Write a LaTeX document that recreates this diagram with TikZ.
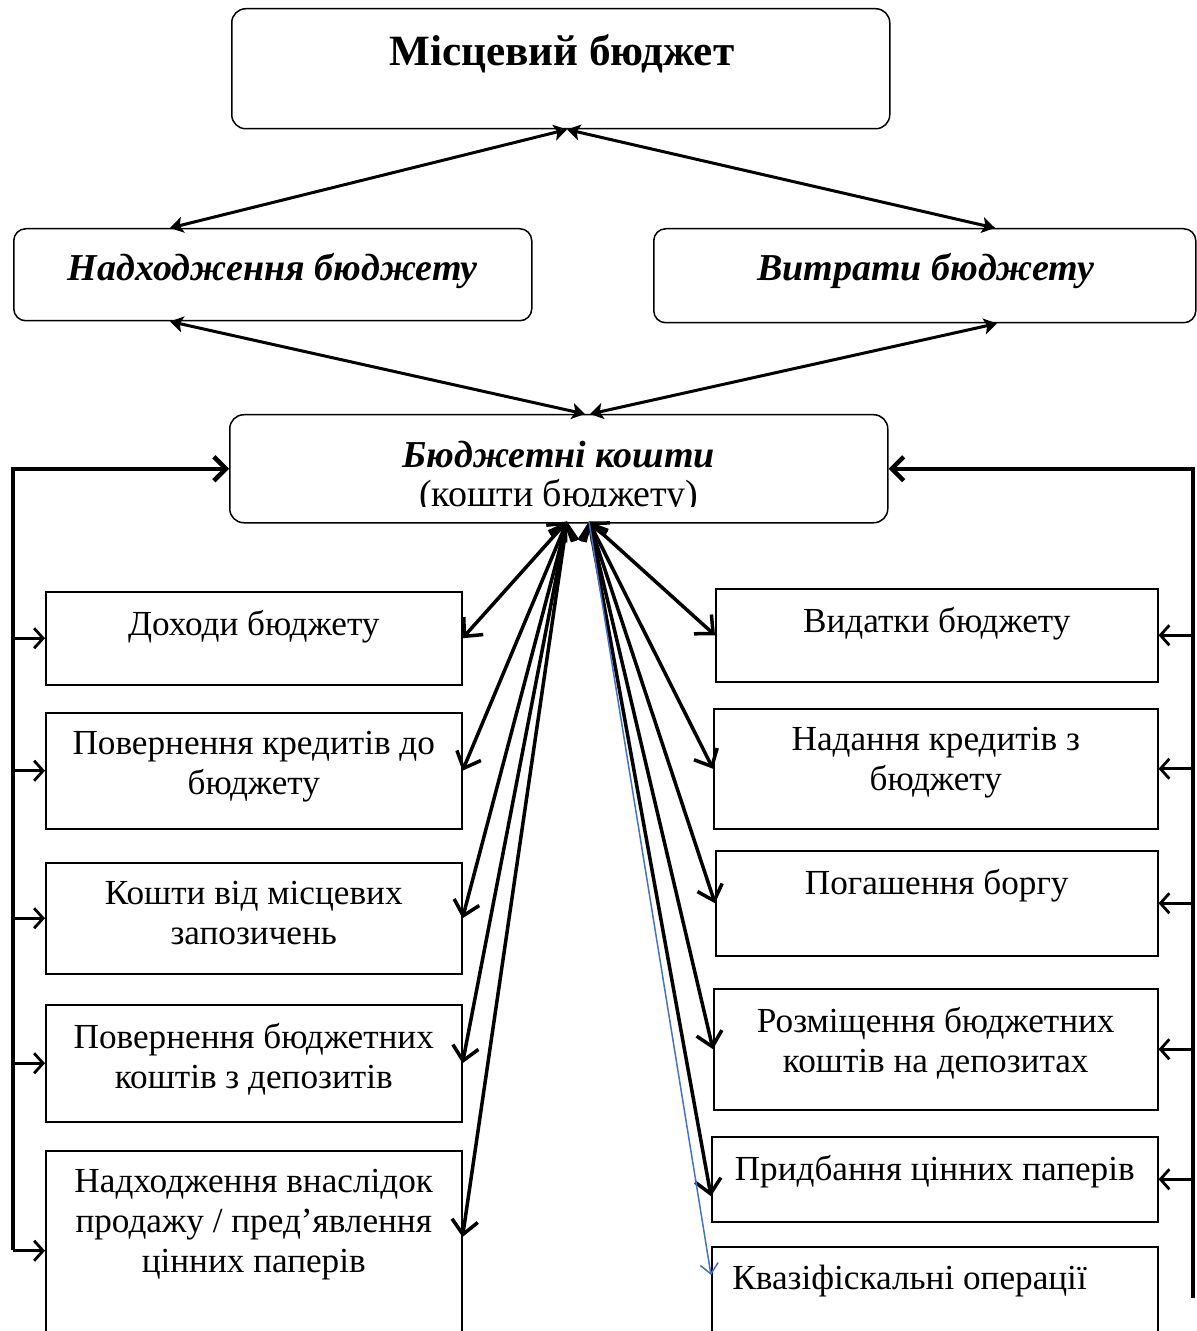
\documentclass[tikz,border=0pt]{standalone}
\usepackage{fontspec}
\setmainfont{Liberation Serif}
\usetikzlibrary{positioning,calc,arrows.meta}
\definecolor{arrowblue}{HTML}{4472C4}
\tikzset{
  rbox/.style={draw,line width=0.75pt,rounded corners=7pt,inner sep=0pt},
  sqbox/.style={draw,line width=0.75pt,inner sep=0pt},
  boxtext/.style={font=\fontsize{17.6}{20}\selectfont,align=center,inner sep=0pt},
  headtext/.style={font=\fontsize{19}{22}\selectfont\bfseries\itshape,inner sep=0pt},
  twoway/.style={line width=1.5pt,{Stealth[length=6.5pt,width=8pt,inset=1.5pt]}-{Stealth[length=6.5pt,width=8pt,inset=1.5pt]}},
  fan/.style={line width=1.75pt,{Straight Barb[length=7pt,width=13pt]}-{Straight Barb[length=7pt,width=13pt]}},
  bus/.style={line width=2.25pt,-{Straight Barb[length=6pt,width=12pt]}},
  branch/.style={line width=1.4pt,-{Straight Barb[length=4.5pt,width=10pt]}},
  blueline/.style={arrowblue,line width=0.75pt,-{Straight Barb[length=5pt,width=9pt]}}
}
% #1 name, #2 x, #3 y, #4 width, #5 height (px), #6 text
\newcommand{\flowbox}[6]{%
  \node[sqbox,minimum width={#4*0.5pt},minimum height={#5*0.5pt},anchor=north west] (#1) at (#2,#3) {};
  \node[boxtext,anchor=north] (#1t) at ($(#1.north)+(0,19)$) {#6};
}

\begin{document}
\begin{tikzpicture}[x=0.5pt,y=-0.5pt]
  \useasboundingbox (0,0) rectangle (1196,1331);
  % top level
  \node[rbox,minimum width=329pt,minimum height=60pt,anchor=north west] (budget) at (231,8) {};
  \node[font=\fontsize{21.6}{24}\selectfont\bfseries,inner sep=0pt,anchor=north] (budgett) at ($(budget.north)+(1,26)$) {Місцевий бюджет};
  \node[rbox,rounded corners=6pt,minimum width=259pt,minimum height=46pt,anchor=north west] (income) at (13,228) {};
  \node[headtext,anchor=north] (incomet) at ($(income.north)+(0,25)$) {Надходження бюджету};
  \node[rbox,rounded corners=6pt,minimum width=271pt,minimum height=47pt,anchor=north west] (spend) at (653,228) {};
  \node[headtext,anchor=north] (spendt) at ($(spend.north)+(1,25)$) {Витрати бюджету};
  \node[rbox,minimum width=329pt,minimum height=54pt,anchor=north west] (funds) at (229,414) {};
  \node[headtext,anchor=north] (fundst) at ($(funds.north)+(0,27)$) {Бюджетні кошти};
  \begin{scope}
    \clip (229,414) rectangle (887,506);
    \node[boxtext,font=\fontsize{19}{22}\selectfont,anchor=north] (fundss) at ($(funds.north)+(0,65)$) {(кошти бюджету)};
  \end{scope}
  \draw[twoway] ($(budget.south west)+(336,0)$) -- ($(income.north west)+(157,0)$);
  \draw[twoway] ($(budget.south west)+(336,0)$) -- ($(spend.north west)+(342,0)$);
  \draw[twoway] ($(income.south west)+(157,0)$) -- ($(funds.north west)+(356,0)$);
  \draw[twoway] ($(spend.south west)+(344,0)$) -- ($(funds.north west)+(361,0)$);

  % receipts
  \flowbox{l1}{45}{591}{416}{93}{Доходи бюджету}
  \flowbox{l2}{45}{712}{416}{116}{Повернення кредитів до\\бюджету}
  \flowbox{l3}{45}{862}{416}{111}{Кошти від місцевих\\запозичень}
  \flowbox{l4}{45}{1004}{416}{117}{Повернення бюджетних\\коштів з депозитів}
  \flowbox{l5}{45}{1150}{416}{200}{Надходження внаслідок\\продажу / пред’явлення\\цінних паперів}
  % payments
  \flowbox{r1}{715}{588}{442}{93}{Видатки бюджету}
  \flowbox{r2}{713}{708}{444}{120}{Надання кредитів з\\бюджету}
  \flowbox{r3}{715}{850}{442}{105}{Погашення боргу}
  \flowbox{r4}{713}{988}{444}{121}{Розміщення бюджетних\\коштів на депозитах}
  \flowbox{r5}{711}{1136}{446}{85}{Придбання цінних паперів}
  \node[sqbox,minimum width=223pt,minimum height=55pt,anchor=north west] (r6) at (711,1246) {};
  \node[boxtext,anchor=north west] (r6t) at ($(r6.north west)+(21,19)$) {Квазіфіскальні операції};

  % fan from the funds box
  \coordinate (fanL) at ($(funds.south west)+(338,-2)$);
  \coordinate (fanR) at ($(funds.south west)+(360,-2)$);
  \foreach \b in {l1,l2,l3,l4}
    \draw[fan] (fanL) -- (\b.east);
  \draw[fan] (fanL) -- ($(l5.north east)+(0,87)$);
  \foreach \b in {r1,r2,r3,r4}
    \draw[fan] (fanR) -- (\b.west);
  \draw[fan] (fanR) -- ($(r5.west)+(0,17)$);
  \draw[blueline] (fanR) -- ($(r6.north west)+(0,29)$);

  % return lines
  \coordinate (lbus) at (13,1250);
  \coordinate (rbus) at (1193,1298);
  \draw[bus] (lbus) |- (funds.west);
  \draw[bus] (rbus) |- (funds.east);
  \foreach \b in {l1,l2,l3,l4,l5}
    \draw[branch] (lbus |- \b.west) -- (\b.west);
  \foreach \b in {r1,r2,r3,r4,r5}
    \draw[branch] (rbus |- \b.east) -- (\b.east);
\end{tikzpicture}
\end{document}
